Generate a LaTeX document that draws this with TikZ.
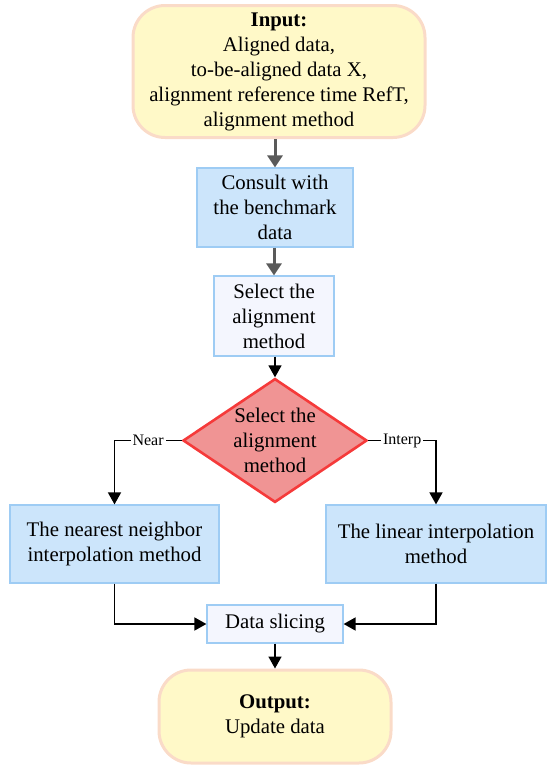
\documentclass[tikz,border=0pt]{standalone}
\usepackage{fontspec}
\setmainfont{Liberation Serif}
\usepackage{xcolor}
\usepackage{tikz}
\usetikzlibrary{arrows.meta,shapes.geometric}
\definecolor{ioFill}{HTML}{FFF9C8}
\definecolor{ioLine}{HTML}{FADBC8}
\definecolor{stepFill}{HTML}{CCE5FB}
\definecolor{stepLine}{HTML}{9ECCF4}
\definecolor{paleFill}{HTML}{F4F6FE}
\definecolor{decFill}{HTML}{F09494}
\definecolor{decLine}{HTML}{F53A3A}
\definecolor{grayArrow}{HTML}{5A5A5A}
\tikzset{
  every node/.style={font=\fontsize{10.4pt}{12.5pt}\selectfont},
  iobox/.style={draw=ioLine, fill=ioFill, line width=1.5pt, rounded corners=16pt, align=center, inner sep=2pt},
  stepbox/.style={draw=stepLine, fill=stepFill, line width=0.6pt, align=center, inner sep=2pt},
  palebox/.style={draw=stepLine, fill=paleFill, line width=0.6pt, align=center, inner sep=2pt},
  decision/.style={diamond, draw=decLine, fill=decFill, line width=1.3pt, align=center, inner sep=-3pt},
  grayflow/.style={draw=grayArrow, line width=1.5pt, -{Triangle[length=6pt,width=7.5pt]}},
  flow/.style={draw=black, line width=0.8pt, -{Triangle[length=6pt,width=6.5pt]}},
  lbl/.style={fill=white, inner sep=1pt, font=\footnotesize},
}
\begin{document}
\begin{tikzpicture}[x=0.5pt,y=-0.5pt]
\useasboundingbox (0,0) rectangle (547,766);
\node[iobox, minimum width=146pt, minimum height=66pt] (input) at (279,71.5)
  {\textbf{Input:}\\Aligned data,\\to-be-aligned data X,\\alignment reference time RefT,\\alignment method};
\node[stepbox, minimum width=78pt, minimum height=39.5pt] (consult) at (275,207.5)
  {Consult with\\the benchmark\\data};
\node[palebox, minimum width=60pt, minimum height=40pt] (select) at (274,316)
  {Select the\\alignment\\method};
\node[decision, minimum width=92pt, minimum height=55.5pt] (choose) at (275,440.5)
  {Select the\\alignment\\method};
\node[stepbox, minimum width=104.5pt, minimum height=39pt] (near) at (114.5,544)
  {The nearest neighbor\\interpolation method};
\node[stepbox, minimum width=110pt, minimum height=39pt] (linear) at (436,544)
  {The linear interpolation\\method};
\node[palebox, minimum width=68pt, minimum height=19pt] (slice) at (275,624)
  {Data slicing};
\node[iobox, minimum width=116pt, minimum height=46.5pt] (output) at (275,716.5)
  {\textbf{Output:}\\Update data};

\draw[grayflow] (input.south -| consult.north) -- (consult.north);
\draw[grayflow] (consult.south -| select.north) -- (select.north);
\draw[flow] (select.south -| choose.north) -- (choose.north);
\draw[flow] (choose.west) -| node[pos=0.25,lbl] {Near} (near.north);
\draw[flow] (choose.east) -| node[pos=0.25,lbl] {Interp} (linear.north);
\draw[flow] (near.south) |- (slice.west);
\draw[flow] (linear.south) |- (slice.east);
\draw[flow] (slice.south) -- (output.north);
\end{tikzpicture}
\end{document}
